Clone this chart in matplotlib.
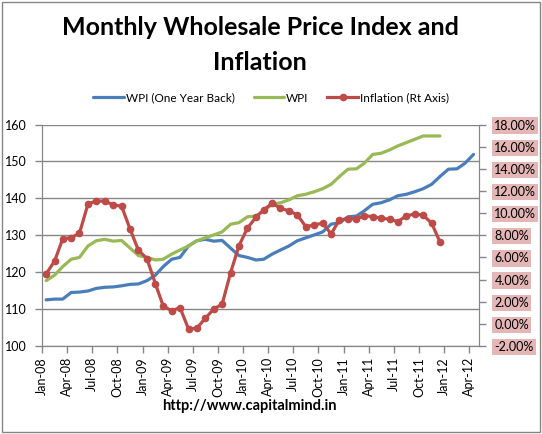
import matplotlib
matplotlib.use('Agg')
import matplotlib.pyplot as plt
import matplotlib.dates as mdates
from matplotlib.patches import Rectangle
from matplotlib.ticker import FuncFormatter, MultipleLocator
import pandas as pd

plt.rcParams['font.family'] = ['Lato', 'DejaVu Sans']

# monthly points, Jan-08 .. Dec-11 (WPI / inflation), Jan-08 .. Apr-12 (one year back)
wpi = [117.7, 119.2, 121.5, 123.5, 124.0, 127.1, 128.5, 128.9, 128.4, 128.6, 126.5, 124.5,
       124.0, 123.3, 123.5, 124.9, 126.0, 127.1, 128.5, 129.3, 130.1, 130.9, 133.0, 133.4,
       135.0, 135.2, 136.6, 138.4, 138.8, 139.6, 140.7, 141.1, 141.8, 142.6, 143.8, 145.9,
       147.9, 148.0, 149.5, 151.9, 152.2, 153.1, 154.2, 155.1, 156.0, 156.9, 156.9, 156.9]

wpi_year_back = [112.5, 112.7, 112.7, 114.5, 114.6, 114.9, 115.6, 115.9, 116.0, 116.3, 116.7, 116.8,
                 117.7, 119.2, 121.5, 123.5, 124.0, 127.1, 128.5, 128.9, 128.4, 128.6, 126.5, 124.5,
                 124.0, 123.3, 123.5, 124.9, 126.0, 127.1, 128.5, 129.3, 130.1, 130.9, 133.0, 133.4,
                 135.0, 135.2, 136.6, 138.4, 138.8, 139.6, 140.7, 141.1, 141.8, 142.6, 143.8, 145.9,
                 147.9, 148.0, 149.5, 151.9]

inflation = [4.51, 5.68, 7.67, 7.79, 8.18, 10.83, 11.10, 11.07, 10.74, 10.62, 8.54, 6.65,
             5.89, 3.60, 1.62, 1.17, 1.47, -0.46, -0.40, 0.50, 1.35, 1.77, 4.63, 7.04,
             8.64, 9.63, 10.29, 10.89, 10.44, 10.20, 9.84, 8.78, 8.93, 9.09, 8.12, 9.39,
             9.48, 9.48, 9.75, 9.69, 9.54, 9.45, 9.23, 9.75, 9.93, 9.81, 9.09, 7.40]

months = pd.date_range('2008-01-01', periods=len(wpi_year_back), freq='MS') + pd.Timedelta(days=15)

BLUE = '#4A7EBB'
GREEN = '#98B954'
RED = '#BE4B48'
GRID = '#868686'

fig = plt.figure(figsize=(5.42, 4.34), dpi=100)
ax = fig.add_axes([0.0775, 0.2028, 0.8063, 0.5103])
ax2 = ax.twinx()

l1, = ax.plot(months, wpi_year_back, color=BLUE, lw=2.3, solid_capstyle='round',
              label='WPI (One Year Back)')
l2, = ax.plot(months[:len(wpi)], wpi, color=GREEN, lw=2.3, solid_capstyle='round', label='WPI')
l3, = ax2.plot(months[:len(inflation)], inflation, color=RED, lw=2.3, marker='o', ms=4.5,
               label='Inflation (Rt Axis)')

ax.set_xlim(pd.Timestamp('2008-01-01'), pd.Timestamp('2012-05-06'))
ax.set_ylim(100, 160)
ax.yaxis.set_major_locator(MultipleLocator(10))
ax.grid(axis='y', color=GRID, lw=1)
ax.set_axisbelow(True)

ax2.set_ylim(-2, 18)
ax2.yaxis.set_major_locator(MultipleLocator(2))
ax2.yaxis.set_major_formatter(FuncFormatter(lambda v, p: f'{v:.2f}%'))

ax.xaxis.set_major_locator(mdates.MonthLocator(bymonth=[1, 4, 7, 10]))
ax.xaxis.set_major_formatter(mdates.DateFormatter('%b-%y'))
for lbl in ax.get_xticklabels():
    lbl.set_rotation(90)

for a in (ax, ax2):
    a.spines['top'].set_visible(False)
    for s in ('left', 'right', 'bottom'):
        a.spines[s].set_color(GRID)
    a.tick_params(color=GRID, length=5, width=1, labelsize=9, labelcolor='black')
ax.tick_params(axis='y', pad=6)
ax.tick_params(axis='x', pad=3)
ax2.tick_params(axis='y', pad=6)
for lbl in ax2.get_yticklabels():
    lbl.set_bbox(dict(facecolor='#E4B6B5', edgecolor='none', pad=1.5))

fig.legend(handles=[l1, l2, l3], loc='center', bbox_to_anchor=(0.5, 0.774), ncol=3,
           frameon=False, fontsize=8.5, handlelength=2.6, handletextpad=0.15, columnspacing=1.6)

fig.text(0.48, 0.937, 'Monthly Wholesale Price Index and', ha='center', va='center',
         fontsize=18, fontweight='bold')
fig.text(0.48, 0.857, 'Inflation', ha='center', va='center', fontsize=18, fontweight='bold')
fig.text(0.461, 0.065, 'http://www.capitalmind.in', ha='center', va='center',
         fontsize=10.5, fontweight='bold')

fig.patches.append(Rectangle((0.003, 0.004), 0.993, 0.992, transform=fig.transFigure,
                             fill=False, edgecolor=GRID, lw=1))

fig.savefig('out.png', dpi=100)
